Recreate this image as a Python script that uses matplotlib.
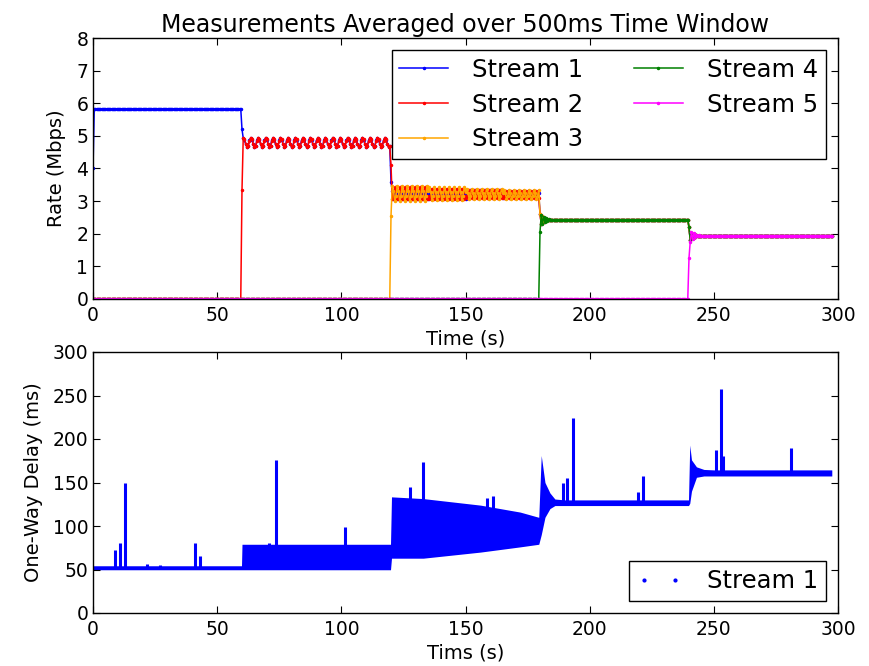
import numpy as np
import matplotlib.pyplot as plt
from matplotlib.lines import Line2D

plt.rcParams['font.family'] = 'DejaVu Sans'
plt.rcParams['xtick.direction'] = 'in'
plt.rcParams['ytick.direction'] = 'in'
plt.rcParams['xtick.top'] = True
plt.rcParams['ytick.right'] = True
plt.rcParams['xtick.major.size'] = 5
plt.rcParams['ytick.major.size'] = 5
plt.rcParams['xtick.major.pad'] = 5
plt.rcParams['axes.linewidth'] = 1.0


def build(segments):
    # segments: list of (pattern, count); pattern is repeated to fill count samples
    out = []
    for pattern, count in segments:
        reps = int(np.ceil(count / len(pattern)))
        out.extend((list(pattern) * reps)[:count])
    return np.array(out)


# 500 ms windows, 0 .. 297.5 s
n_win = 596
t = np.arange(n_win) * 0.5

# shared-rate oscillation cycles (Mbps) read per phase
cyc2 = [4.95, 4.90, 4.76, 4.65, 4.68, 4.84]
cyc2_b = [4.93, 4.88, 4.74, 4.66, 4.70, 4.86]
# three streams sharing 120-180 s, amplitude shrinking over the phase
cyc3 = [[3.47, 3.30, 3.00, 3.17], [3.42, 3.28, 3.03, 3.17],
        [3.38, 3.26, 3.05, 3.17], [3.34, 3.24, 3.08, 3.16]]
cyc3_b = [[3.06, 3.17, 3.42, 3.30], [3.08, 3.17, 3.38, 3.28],
          [3.09, 3.17, 3.35, 3.26], [3.11, 3.16, 3.31, 3.24]]
cyc3_c = [[3.30, 3.06, 3.17, 3.42], [3.28, 3.08, 3.17, 3.38],
          [3.26, 3.09, 3.17, 3.35], [3.24, 3.11, 3.16, 3.31]]
ring4 = [2.06, 2.58, 2.30, 2.52, 2.36, 2.47, 2.39, 2.45, 2.41]
ring4_b = [2.62, 2.30, 2.55, 2.35, 2.48, 2.40, 2.45, 2.42, 2.43]
ring5 = [1.26, 1.76, 2.06, 1.84, 2.01, 1.90, 1.97, 1.92, 1.95]
ring5_b = [2.20, 1.80, 2.02, 1.87, 1.99, 1.91, 1.96, 1.93, 1.94]
flat4 = [2.43]
flat5 = [1.94]


def phase3(cycles):
    return [(c, n) for c, n in zip(cycles, [30, 30, 30, 29])]


stream1 = build([([4.0], 1), ([5.83], 119), ([5.2], 1), (cyc2_b, 119),
                 ([3.6], 1)] + phase3(cyc3_c) +
                [(ring4_b, 9), (flat4, 111), (ring5_b, 9), (flat5, 107)])
stream2 = build([([0.0], 120), ([3.35], 1), (cyc2, 119),
                 ([4.1], 1)] + phase3(cyc3_b) +
                [(ring4_b, 9), (flat4, 111), (ring5_b, 9), (flat5, 107)])
stream3 = build([([0.0], 240), ([2.55], 1)] + phase3(cyc3) +
                [(ring4_b, 9), (flat4, 111), (ring5_b, 9), (flat5, 107)])
stream4 = build([([0.0], 360), (ring4, 9), (flat4, 111), (ring5_b, 9), (flat5, 107)])
stream5 = build([([0.0], 480), (ring5, 9), (flat5, 107)])

rates = [stream1, stream2, stream3, stream4, stream5]
names = ['Stream 1', 'Stream 2', 'Stream 3', 'Stream 4', 'Stream 5']
colors = ['blue', 'red', 'orange', 'green', 'magenta']

# one-way delay of stream 1 (ms): band envelope and spikes
delay_t = [0, 59.8, 60.0, 119.8, 120.2, 133, 156, 172, 179.5, 180.5, 182, 184,
           186, 190, 239.8, 240.3, 241, 243, 246, 250, 297.5]
delay_lo = [49.7, 49.7, 49.7, 49.7, 63, 63, 70, 76, 79, 90, 110, 120,
            123.5, 123.5, 123.5, 126, 140, 156, 157.5, 157.5, 157.5]
delay_hi = [54.3, 54.3, 79, 79, 133.5, 131.5, 124, 116, 110, 181, 150, 138,
            131, 130, 130, 193, 176, 168, 165, 164.5, 164.5]

spike_t = [8.9, 10.9, 12.9, 21.7, 27.0, 41.0, 43.0, 71.0, 73.5, 101.5,
           127.7, 132.8, 158.5, 161.2, 189.4, 191.0, 193.2, 219.5, 221.3,
           250.8, 252.8, 253.5, 281.0]
spike_base = [52, 52, 52, 52, 52, 52, 52, 78, 78, 78,
              130, 130, 120, 120, 127, 127, 127, 127, 127,
              161, 161, 161, 161]
spike_top = [72, 80, 150, 56, 55, 80, 66, 81, 176, 99,
             145, 173, 132, 134, 149, 155, 224, 139, 157,
             187, 257, 180, 190]

fig = plt.figure(figsize=(8.69, 6.66), dpi=100)
ax1 = fig.add_axes([93 / 869, 1 - 299 / 666, 745 / 869, 261 / 666])
ax2 = fig.add_axes([93 / 869, 1 - 613 / 666, 745 / 869, 261 / 666])

for rate, name, c in zip(rates, names, colors):
    ax1.plot(t, rate, '.-', color=c, lw=1.1, ms=3, label=name)
ax1.set_xlim(0, 300)
ax1.set_ylim(0, 8)
ax1.set_yticks(range(9))
ax1.set_xlabel('Time (s)', fontsize=14, labelpad=3)
ax1.set_ylabel('Rate (Mbps)', fontsize=14, labelpad=7)
ax1.set_title('Measurements Averaged over 500ms Time Window', fontsize=17, pad=4)
ax1.tick_params(labelsize=13.5)
ax1.legend(loc='upper right', ncol=2, fontsize=17.5, fancybox=False,
           edgecolor='black', framealpha=1, borderaxespad=0.5,
           handlelength=2.0, handletextpad=1.0, columnspacing=2.08,
           labelspacing=0.44, borderpad=0.32)

ax2.fill_between(delay_t, delay_lo, delay_hi, color='blue', lw=0)
ax2.vlines(spike_t, spike_base, spike_top, color='blue', lw=2.2)
ax2.set_xlim(0, 300)
ax2.set_ylim(0, 300)
ax2.set_xlabel('Tims (s)', fontsize=14, labelpad=3)
ax2.set_ylabel('One-Way Delay (ms)', fontsize=14, labelpad=7)
ax2.tick_params(labelsize=13.5)
handle = Line2D([], [], ls='none', marker='.', ms=4, color='blue')
ax2.legend([handle], ['Stream 1'], loc='lower right', numpoints=2, fontsize=17.5,
           fancybox=False, edgecolor='black', framealpha=1, borderaxespad=0.5,
           handlelength=1.9, handletextpad=1.0, borderpad=0.32)

fig.savefig('out.png', dpi=100)
